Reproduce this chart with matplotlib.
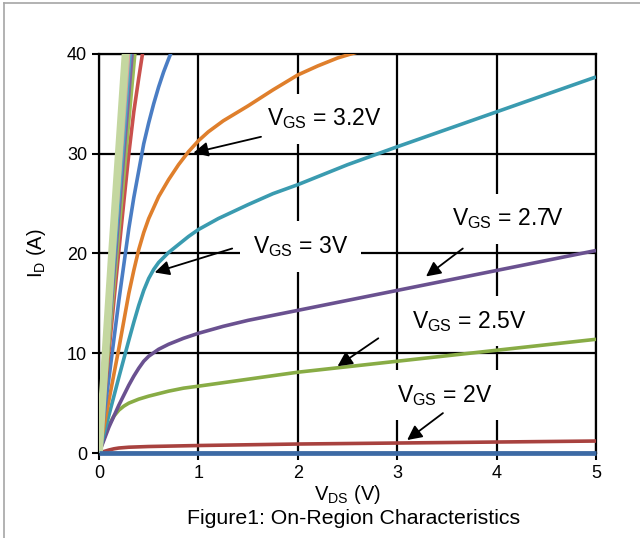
import matplotlib

matplotlib.use("Agg")

import matplotlib.pyplot as plt
from matplotlib.lines import Line2D

plt.rcParams["font.family"] = ["Liberation Sans", "DejaVu Sans"]
plt.rcParams["mathtext.fontset"] = "custom"
plt.rcParams["mathtext.rm"] = "Liberation Sans"
plt.rcParams["mathtext.it"] = "Liberation Sans:italic"

# drain current curves, one per gate voltage (VDS in V, ID in A)
vds_0v = [0, 1, 2, 3, 4, 5]
id_0v = [0.02, 0.02, 0.02, 0.02, 0.02, 0.02]

vds_2v = [0, 0.05, 0.1, 0.15, 0.2, 0.3, 0.5, 1, 2, 3, 4, 5]
id_2v = [0, 0.15, 0.3, 0.42, 0.5, 0.58, 0.65, 0.75, 0.9, 1.0, 1.1, 1.2]

vds_2v5 = [0, 0.05, 0.1, 0.15, 0.2, 0.25, 0.3, 0.4, 0.5, 0.7, 0.85, 1, 1.5, 2, 3, 4, 5]
id_2v5 = [0, 1.5, 2.8, 3.7, 4.3, 4.7, 5.0, 5.4, 5.7, 6.2, 6.5, 6.7, 7.4, 8.1, 9.2, 10.3, 11.4]

vds_2v7 = [0, 0.1, 0.2, 0.3, 0.35, 0.4, 0.45, 0.5, 0.6, 0.7, 0.85, 1, 1.25, 1.5, 2, 3, 4, 5]
id_2v7 = [0, 2.6, 4.8, 6.8, 7.7, 8.5, 9.2, 9.7, 10.4, 10.9, 11.5, 12.0, 12.7, 13.3, 14.3, 16.3, 18.3, 20.3]

vds_3v = [0, 0.1, 0.2, 0.3, 0.35, 0.4, 0.45, 0.5, 0.55, 0.6, 0.7, 0.8, 0.9, 1, 1.2, 1.5,
          1.75, 2, 2.5, 3, 4, 5]
id_3v = [0, 3.8, 7.6, 11.3, 13.1, 14.8, 16.3, 17.5, 18.4, 19.1, 20.1, 20.9, 21.7, 22.4, 23.5,
         24.9, 26.0, 26.9, 28.9, 30.7, 34.2, 37.7]

vds_3v2 = [0, 0.1, 0.2, 0.3, 0.35, 0.4, 0.45, 0.5, 0.6, 0.7, 0.8, 0.9, 1, 1.1, 1.25, 1.5,
           1.75, 2, 2.2, 2.4, 2.6]
id_3v2 = [0, 5.3, 10.5, 16.0, 18.3, 20.4, 22.1, 23.5, 25.7, 27.4, 28.9, 30.2, 31.3, 32.2,
          33.3, 34.8, 36.4, 37.9, 38.8, 39.6, 40.2]

vds_3v5 = [0, 0.1, 0.2, 0.3, 0.35, 0.4, 0.45, 0.5, 0.55, 0.6, 0.65, 0.7, 0.74]
id_3v5 = [0, 7.5, 15.3, 22.5, 25.6, 28.3, 31.0, 33.1, 35.0, 36.7, 38.2, 39.5, 40.5]

vds_4v = [0, 0.1, 0.2, 0.25, 0.3, 0.35, 0.4, 0.445]
id_4v = [0, 10.2, 20.3, 25.2, 30.0, 34.2, 37.6, 40.5]

vds_5v = [0, 0.18, 0.365]
id_5v = [0, 20, 40.5]

vds_6v = [0, 0.17, 0.34]
id_6v = [0, 20, 40.5]

vds_7v = [0, 0.16, 0.32]
id_7v = [0, 20, 40.5]

vds_8v = [0, 0.15, 0.305]
id_8v = [0, 20, 40.5]

vds_10v = [0, 0.13, 0.27]
id_10v = [0, 20, 40.5]

curves = [
    (vds_2v, id_2v, "#A8423F", 2.6),
    (vds_2v5, id_2v5, "#88AC45", 2.6),
    (vds_2v7, id_2v7, "#6A5190", 2.6),
    (vds_3v, id_3v, "#3A9BB0", 2.6),
    (vds_3v2, id_3v2, "#DF7F2C", 2.6),
    (vds_3v5, id_3v5, "#4A7DC4", 2.6),
    (vds_4v, id_4v, "#C9504D", 2.6),
    (vds_5v, id_5v, "#9BBB59", 2.6),
    (vds_6v, id_6v, "#8064A2", 2.2),
    (vds_7v, id_7v, "#4BACC6", 2.2),
    (vds_8v, id_8v, "#D9A09E", 2.2),
    (vds_10v, id_10v, "#C4D7A0", 5.5),
]

# (label, text position, arrow tail, arrow head)
labels = [
    (r"$\mathregular{V_{GS}}$ = 3.2V", (1.69, 33.5), (1.63, 31.7), (0.95, 30.1)),
    (r"$\mathregular{V_{GS}}$ = 3V", (1.55, 20.7), (1.34, 20.5), (0.56, 18.1)),
    (r"$\mathregular{V_{GS}}$ = 2.7V", (3.55, 23.5), (3.66, 20.5), (3.29, 17.7)),
    (r"$\mathregular{V_{GS}}$ = 2.5V", (3.15, 13.2), (2.81, 11.5), (2.40, 8.7)),
    (r"$\mathregular{V_{GS}}$ = 2V", (3.0, 5.8), (3.46, 4.0), (3.10, 1.3)),
]

fig = plt.figure(figsize=(6.4, 5.38), dpi=100)
ax = fig.add_axes([99 / 640, 85 / 538, 497 / 640, 399 / 538])

ax.grid(True, color="black", linewidth=1.6, zorder=0)
ax.set_axisbelow(True)

for xs, ys, color, lw in curves:
    ax.plot(xs, ys, color=color, linewidth=lw, solid_capstyle="butt", zorder=3)
# the 0 V curve sits on the bottom axis and hides it
ax.plot(vds_0v, id_0v, color="#3C6AA5", linewidth=3.4, solid_capstyle="butt",
        zorder=4, clip_on=False)

for text, pos, tail, head in labels:
    ax.text(pos[0], pos[1], text, fontsize=16.5, ha="left", va="center", zorder=2,
            bbox=dict(boxstyle="square,pad=0.55", facecolor="white", edgecolor="none"))
    ax.annotate("", xy=head, xytext=tail, zorder=6,
                arrowprops=dict(arrowstyle="-|>", color="black", lw=1.3,
                                mutation_scale=22, shrinkA=0, shrinkB=0))

ax.set_xlim(0, 5)
ax.set_ylim(0, 40)
ax.set_xticks([0, 1, 2, 3, 4, 5])
ax.set_yticks([0, 10, 20, 30, 40])
ax.tick_params(labelsize=13, length=5, width=1.5, color="black", direction="out")
for spine in ax.spines.values():
    spine.set_color("black")
    spine.set_linewidth(1.6)

ax.set_xlabel(r"$\mathregular{V_{DS}}$ (V)", fontsize=14.5, labelpad=1)
ax.set_ylabel(r"$\mathregular{I_{D}}$ (A)", fontsize=14.5, labelpad=14)
fig.text(354 / 640, 1 - 519 / 538, "Figure1: On-Region Characteristics",
         fontsize=15.3, ha="center", va="center")

# grey frame along the top and left edges
fig.add_artist(Line2D([4 / 640, 1], [1 - 3 / 538, 1 - 3 / 538], color="#A6A6A6", lw=1.2))
fig.add_artist(Line2D([4 / 640, 4 / 640], [0, 1 - 3 / 538], color="#A6A6A6", lw=1.2))

fig.savefig("out.png", dpi=100)
